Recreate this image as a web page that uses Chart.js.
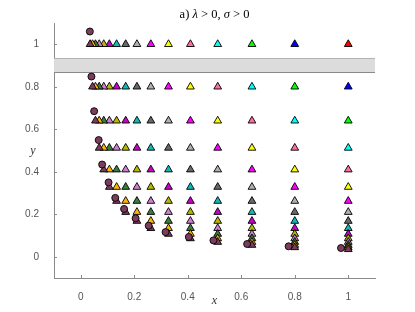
<!DOCTYPE html>
<html>
<head>
<meta charset="utf-8">
<script src="https://cdn.jsdelivr.net/npm/chart.js@4/dist/chart.umd.min.js"></script>
<style>
  body { margin: 0; background: #fff; }
  #wrap { width: 415px; height: 312px; position: relative; }
</style>
</head>
<body>
<div id="wrap"><canvas id="chart"></canvas></div>
<script>
// grid positions (columns and rows)
const xCols = [1, 0.8, 0.64, 0.512, 0.41, 0.328, 0.262, 0.21, 0.168, 0.134, 0.107, 0.086, 0.069, 0.055, 0.044, 0.035];
const yRows = [1, 0.8, 0.64, 0.512, 0.41, 0.328, 0.262, 0.21, 0.168, 0.134, 0.107, 0.086, 0.069, 0.055, 0.044, 0.035];

// one colour per diagonal (row index + column index)
const diagColors = ['#ff0000', '#0000ff', '#00ff00', '#00ffff', '#ff6f9a', '#ffff00', '#ff00ff', '#b0b0b0',
  '#686868', '#10b8b8', '#c800c8', '#b8b800', '#d07fd0', '#3c7c3c', '#ffb400', '#7c3c5e'];

// circles near the end of each diagonal
const circleX = [0.034, 0.040, 0.050, 0.067, 0.080, 0.104, 0.129, 0.162, 0.205, 0.254, 0.317, 0.404, 0.496, 0.622, 0.777, 0.973];
const circleY = [1.06, 0.848, 0.685, 0.549, 0.434, 0.350, 0.277, 0.225, 0.181, 0.146, 0.116, 0.093, 0.077, 0.060, 0.049, 0.041];

// shaded band
const bandTop = 0.933;
const bandBottom = 0.867;

const xTicks = [0, 0.2, 0.4, 0.6, 0.8, 1];
const yTicks = [0, 0.2, 0.4, 0.6, 0.8, 1];

const datasets = [];

datasets.push({
  type: 'line',
  data: [{x: -0.1, y: bandTop}, {x: 1.1, y: bandTop}],
  borderColor: '#8a8a8a', borderWidth: 1, pointRadius: 0, fill: false, order: 200
});
datasets.push({
  type: 'line',
  data: [{x: -0.1, y: bandBottom}, {x: 1.1, y: bandBottom}],
  borderColor: '#8a8a8a', borderWidth: 1, pointRadius: 0,
  fill: '-1', backgroundColor: '#dcdcdc', order: 199
});

for (let d = 0; d < diagColors.length; d++) {
  const pts = [];
  for (let i = 0; i <= d; i++) {
    pts.push({x: xCols[d - i], y: yRows[i]});
  }
  datasets.push({
    type: 'scatter',
    data: pts,
    pointStyle: 'triangle',
    pointRadius: 4.5,
    pointBackgroundColor: diagColors[d],
    pointBorderColor: '#000',
    pointBorderWidth: 0.9,
    order: 100 - d
  });
}

datasets.push({
  type: 'scatter',
  data: circleX.map((x, i) => ({x: x, y: circleY[i]})),
  pointStyle: 'circle',
  pointRadius: 3.5,
  pointBackgroundColor: '#7c3c5e',
  pointBorderColor: '#000',
  pointBorderWidth: 0.9,
  order: 0
});

const axisColor = '#8a8a8a';

const decorPlugin = {
  id: 'decor',
  afterDraw(chart) {
    const ctx = chart.ctx;
    const xs = chart.scales.x, ys = chart.scales.y;
    const area = chart.chartArea;
    ctx.save();
    // inward ticks
    ctx.strokeStyle = axisColor;
    ctx.lineWidth = 1;
    ctx.beginPath();
    xTicks.forEach(v => {
      const px = Math.round(xs.getPixelForValue(v)) + 0.5;
      ctx.moveTo(px, area.bottom);
      ctx.lineTo(px, area.bottom - 3);
    });
    yTicks.forEach(v => {
      const py = Math.round(ys.getPixelForValue(v)) + 0.5;
      ctx.moveTo(area.left, py);
      ctx.lineTo(area.left + 3, py);
    });
    ctx.stroke();

    // title, mixed roman / italic like LaTeX
    const parts = [
      ['a) ', false], ['\u03bb', true], [' > 0, ', false], ['\u03c3', true], [' > 0', false]
    ];
    const roman = '12.5px "Liberation Serif"';
    const ital = 'italic 12.5px "Liberation Serif"';
    let w = 0;
    parts.forEach(p => { ctx.font = p[1] ? ital : roman; w += ctx.measureText(p[0]).width; });
    let tx = (area.left + area.right) / 2 - w / 2;
    ctx.fillStyle = '#000';
    ctx.textBaseline = 'alphabetic';
    ctx.textAlign = 'left';
    parts.forEach(p => {
      ctx.font = p[1] ? ital : roman;
      ctx.fillText(p[0], tx, 18);
      tx += ctx.measureText(p[0]).width;
    });

    // axis labels
    ctx.font = 'italic 12px "Liberation Serif"';
    ctx.fillStyle = '#333';
    ctx.textAlign = 'center';
    ctx.textBaseline = 'middle';
    ctx.fillText('x', (area.left + area.right) / 2, 301);
    ctx.fillText('y', 33, 151);
    ctx.restore();
  }
};

new Chart(document.getElementById('chart'), {
  type: 'scatter',
  data: { datasets: datasets },
  options: {
    responsive: true,
    maintainAspectRatio: false,
    animation: false,
    layout: { padding: { top: 23, right: 40, left: 0, bottom: 0 } },
    plugins: {
      legend: { display: false },
      tooltip: { enabled: false }
    },
    scales: {
      x: {
        type: 'linear',
        min: -0.1, max: 1.1,
        afterFit: (s) => { s.height = 34; },
        afterBuildTicks: (s) => { s.ticks = xTicks.map(v => ({value: v})); },
        ticks: {
          padding: 5,
          color: '#555',
          font: { family: 'Liberation Sans', size: 10 },
          callback: (v) => String(v)
        },
        grid: { display: false },
        border: { display: true, color: axisColor, width: 1 }
      },
      y: {
        type: 'linear',
        min: -0.1, max: 1.1,
        afterFit: (s) => { s.width = 54; },
        afterBuildTicks: (s) => { s.ticks = yTicks.map(v => ({value: v})); },
        ticks: {
          padding: 7,
          color: '#555',
          font: { family: 'Liberation Sans', size: 10 },
          callback: (v) => String(v)
        },
        grid: { display: false },
        border: { display: true, color: axisColor, width: 1 }
      }
    }
  },
  plugins: [decorPlugin]
});
</script>
</body>
</html>
